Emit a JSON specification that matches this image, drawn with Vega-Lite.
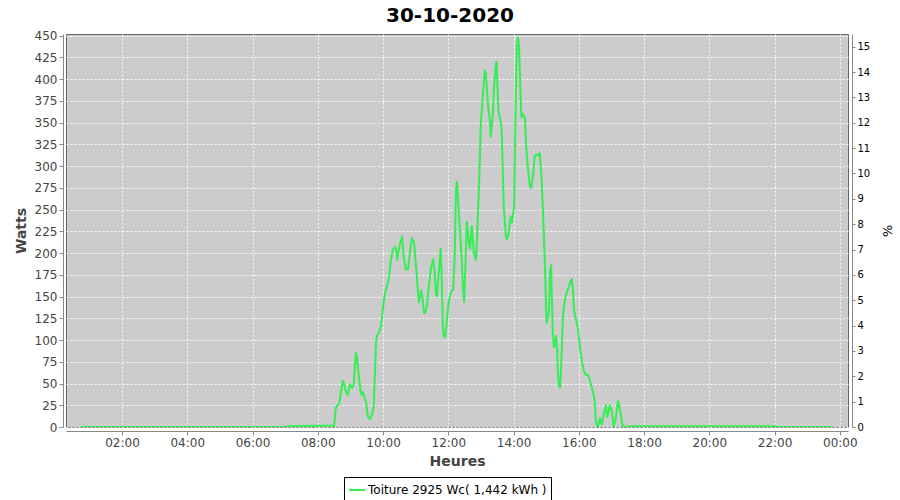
{
  "$schema": "https://vega.github.io/schema/vega-lite/v6.json",
  "width": 782,
  "height": 393,
  "autosize": {"type": "none"},
  "padding": {"left": 66, "top": 34, "right": 52, "bottom": 73},
  "background": "white",
  "title": {"text": "30-10-2020", "fontSize": 20, "fontWeight": "bold", "font": "DejaVu Sans", "color": "black", "anchor": "middle", "frame": "group", "dx": -7, "offset": 4},
  "config": {
    "view": {"fill": "#cccccc", "stroke": "#666666", "strokeWidth": 1},
    "axis": {"labelFont": "DejaVu Sans", "titleFont": "DejaVu Sans"},
    "legend": {"labelFont": "DejaVu Sans"}
  },
  "data": {"values": [
    {"t": "2020-10-30T00:45", "w": 0},
    {"t": "2020-10-30T02:00", "w": 0},
    {"t": "2020-10-30T04:00", "w": 0},
    {"t": "2020-10-30T06:00", "w": 0},
    {"t": "2020-10-30T07:00", "w": 0},
    {"t": "2020-10-30T07:05", "w": 1},
    {"t": "2020-10-30T08:00", "w": 1.5},
    {"t": "2020-10-30T08:30", "w": 1.5},
    {"t": "2020-10-30T08:33", "w": 22},
    {"t": "2020-10-30T08:36", "w": 25},
    {"t": "2020-10-30T08:39", "w": 26},
    {"t": "2020-10-30T08:46", "w": 53},
    {"t": "2020-10-30T08:49", "w": 48},
    {"t": "2020-10-30T08:52", "w": 40},
    {"t": "2020-10-30T08:55", "w": 37},
    {"t": "2020-10-30T08:59", "w": 49},
    {"t": "2020-10-30T09:03", "w": 45},
    {"t": "2020-10-30T09:06", "w": 48},
    {"t": "2020-10-30T09:10", "w": 85},
    {"t": "2020-10-30T09:12", "w": 80},
    {"t": "2020-10-30T09:14", "w": 68},
    {"t": "2020-10-30T09:17", "w": 50},
    {"t": "2020-10-30T09:19", "w": 40},
    {"t": "2020-10-30T09:21", "w": 37},
    {"t": "2020-10-30T09:23", "w": 40},
    {"t": "2020-10-30T09:25", "w": 36},
    {"t": "2020-10-30T09:29", "w": 28},
    {"t": "2020-10-30T09:32", "w": 12},
    {"t": "2020-10-30T09:36", "w": 9},
    {"t": "2020-10-30T09:40", "w": 15},
    {"t": "2020-10-30T09:43", "w": 25},
    {"t": "2020-10-30T09:45", "w": 60},
    {"t": "2020-10-30T09:47", "w": 97},
    {"t": "2020-10-30T09:49", "w": 105},
    {"t": "2020-10-30T09:52", "w": 108},
    {"t": "2020-10-30T09:56", "w": 115},
    {"t": "2020-10-30T10:00", "w": 137},
    {"t": "2020-10-30T10:03", "w": 152},
    {"t": "2020-10-30T10:07", "w": 162},
    {"t": "2020-10-30T10:11", "w": 172},
    {"t": "2020-10-30T10:14", "w": 190},
    {"t": "2020-10-30T10:18", "w": 204},
    {"t": "2020-10-30T10:22", "w": 207},
    {"t": "2020-10-30T10:24", "w": 205},
    {"t": "2020-10-30T10:26", "w": 192},
    {"t": "2020-10-30T10:28", "w": 200},
    {"t": "2020-10-30T10:31", "w": 210},
    {"t": "2020-10-30T10:35", "w": 219},
    {"t": "2020-10-30T10:38", "w": 195},
    {"t": "2020-10-30T10:42", "w": 181},
    {"t": "2020-10-30T10:46", "w": 182},
    {"t": "2020-10-30T10:49", "w": 198},
    {"t": "2020-10-30T10:53", "w": 217},
    {"t": "2020-10-30T10:57", "w": 213},
    {"t": "2020-10-30T11:00", "w": 190},
    {"t": "2020-10-30T11:04", "w": 158},
    {"t": "2020-10-30T11:06", "w": 143},
    {"t": "2020-10-30T11:08", "w": 150},
    {"t": "2020-10-30T11:10", "w": 157},
    {"t": "2020-10-30T11:13", "w": 148},
    {"t": "2020-10-30T11:15", "w": 132},
    {"t": "2020-10-30T11:17", "w": 131},
    {"t": "2020-10-30T11:21", "w": 140},
    {"t": "2020-10-30T11:24", "w": 160},
    {"t": "2020-10-30T11:28", "w": 182},
    {"t": "2020-10-30T11:32", "w": 193},
    {"t": "2020-10-30T11:35", "w": 178},
    {"t": "2020-10-30T11:37", "w": 155},
    {"t": "2020-10-30T11:39", "w": 150},
    {"t": "2020-10-30T11:43", "w": 182},
    {"t": "2020-10-30T11:46", "w": 205},
    {"t": "2020-10-30T11:48", "w": 170},
    {"t": "2020-10-30T11:50", "w": 115},
    {"t": "2020-10-30T11:52", "w": 104},
    {"t": "2020-10-30T11:54", "w": 103},
    {"t": "2020-10-30T11:57", "w": 120},
    {"t": "2020-10-30T12:01", "w": 145},
    {"t": "2020-10-30T12:05", "w": 155},
    {"t": "2020-10-30T12:09", "w": 158},
    {"t": "2020-10-30T12:12", "w": 200},
    {"t": "2020-10-30T12:14", "w": 272},
    {"t": "2020-10-30T12:16", "w": 282},
    {"t": "2020-10-30T12:18", "w": 262},
    {"t": "2020-10-30T12:21", "w": 230},
    {"t": "2020-10-30T12:25", "w": 190},
    {"t": "2020-10-30T12:27", "w": 160},
    {"t": "2020-10-30T12:29", "w": 144},
    {"t": "2020-10-30T12:32", "w": 195},
    {"t": "2020-10-30T12:34", "w": 236},
    {"t": "2020-10-30T12:36", "w": 225},
    {"t": "2020-10-30T12:38", "w": 210},
    {"t": "2020-10-30T12:40", "w": 205},
    {"t": "2020-10-30T12:43", "w": 231},
    {"t": "2020-10-30T12:47", "w": 200},
    {"t": "2020-10-30T12:51", "w": 192},
    {"t": "2020-10-30T12:53", "w": 220},
    {"t": "2020-10-30T12:56", "w": 270},
    {"t": "2020-10-30T13:00", "w": 350},
    {"t": "2020-10-30T13:04", "w": 385},
    {"t": "2020-10-30T13:07", "w": 410},
    {"t": "2020-10-30T13:09", "w": 407},
    {"t": "2020-10-30T13:13", "w": 370},
    {"t": "2020-10-30T13:17", "w": 350},
    {"t": "2020-10-30T13:18", "w": 334},
    {"t": "2020-10-30T13:22", "w": 360},
    {"t": "2020-10-30T13:24", "w": 390},
    {"t": "2020-10-30T13:28", "w": 420},
    {"t": "2020-10-30T13:29", "w": 418},
    {"t": "2020-10-30T13:32", "w": 364},
    {"t": "2020-10-30T13:35", "w": 355},
    {"t": "2020-10-30T13:38", "w": 345},
    {"t": "2020-10-30T13:40", "w": 300},
    {"t": "2020-10-30T13:42", "w": 253},
    {"t": "2020-10-30T13:46", "w": 218},
    {"t": "2020-10-30T13:48", "w": 216},
    {"t": "2020-10-30T13:51", "w": 222},
    {"t": "2020-10-30T13:53", "w": 236},
    {"t": "2020-10-30T13:55", "w": 242},
    {"t": "2020-10-30T13:57", "w": 235},
    {"t": "2020-10-30T14:01", "w": 253},
    {"t": "2020-10-30T14:04", "w": 380},
    {"t": "2020-10-30T14:06", "w": 440},
    {"t": "2020-10-30T14:08", "w": 448},
    {"t": "2020-10-30T14:10", "w": 438},
    {"t": "2020-10-30T14:12", "w": 400},
    {"t": "2020-10-30T14:14", "w": 362},
    {"t": "2020-10-30T14:15", "w": 356},
    {"t": "2020-10-30T14:17", "w": 360},
    {"t": "2020-10-30T14:21", "w": 355},
    {"t": "2020-10-30T14:23", "w": 325},
    {"t": "2020-10-30T14:26", "w": 300},
    {"t": "2020-10-30T14:30", "w": 278},
    {"t": "2020-10-30T14:32", "w": 275},
    {"t": "2020-10-30T14:36", "w": 290},
    {"t": "2020-10-30T14:39", "w": 312},
    {"t": "2020-10-30T14:43", "w": 313},
    {"t": "2020-10-30T14:47", "w": 312},
    {"t": "2020-10-30T14:48", "w": 315},
    {"t": "2020-10-30T14:50", "w": 300},
    {"t": "2020-10-30T14:52", "w": 280},
    {"t": "2020-10-30T14:54", "w": 250},
    {"t": "2020-10-30T14:58", "w": 180},
    {"t": "2020-10-30T15:00", "w": 130},
    {"t": "2020-10-30T15:01", "w": 120},
    {"t": "2020-10-30T15:05", "w": 132},
    {"t": "2020-10-30T15:07", "w": 178},
    {"t": "2020-10-30T15:09", "w": 186},
    {"t": "2020-10-30T15:10", "w": 160},
    {"t": "2020-10-30T15:12", "w": 110},
    {"t": "2020-10-30T15:14", "w": 92},
    {"t": "2020-10-30T15:16", "w": 95},
    {"t": "2020-10-30T15:18", "w": 105},
    {"t": "2020-10-30T15:20", "w": 90},
    {"t": "2020-10-30T15:21", "w": 70},
    {"t": "2020-10-30T15:23", "w": 50},
    {"t": "2020-10-30T15:25", "w": 45},
    {"t": "2020-10-30T15:27", "w": 60},
    {"t": "2020-10-30T15:29", "w": 95},
    {"t": "2020-10-30T15:31", "w": 130},
    {"t": "2020-10-30T15:34", "w": 145},
    {"t": "2020-10-30T15:38", "w": 155},
    {"t": "2020-10-30T15:42", "w": 162},
    {"t": "2020-10-30T15:45", "w": 168},
    {"t": "2020-10-30T15:47", "w": 170},
    {"t": "2020-10-30T15:49", "w": 160},
    {"t": "2020-10-30T15:51", "w": 135},
    {"t": "2020-10-30T15:55", "w": 123},
    {"t": "2020-10-30T15:58", "w": 115},
    {"t": "2020-10-30T16:02", "w": 92},
    {"t": "2020-10-30T16:06", "w": 75},
    {"t": "2020-10-30T16:09", "w": 65},
    {"t": "2020-10-30T16:13", "w": 60},
    {"t": "2020-10-30T16:17", "w": 60},
    {"t": "2020-10-30T16:20", "w": 55},
    {"t": "2020-10-30T16:24", "w": 45},
    {"t": "2020-10-30T16:28", "w": 35},
    {"t": "2020-10-30T16:30", "w": 25},
    {"t": "2020-10-30T16:31", "w": 10},
    {"t": "2020-10-30T16:33", "w": 2},
    {"t": "2020-10-30T16:35", "w": 0},
    {"t": "2020-10-30T16:39", "w": 10},
    {"t": "2020-10-30T16:41", "w": 5},
    {"t": "2020-10-30T16:42", "w": 3},
    {"t": "2020-10-30T16:46", "w": 15},
    {"t": "2020-10-30T16:50", "w": 25},
    {"t": "2020-10-30T16:52", "w": 12},
    {"t": "2020-10-30T16:54", "w": 15},
    {"t": "2020-10-30T16:57", "w": 25},
    {"t": "2020-10-30T17:01", "w": 18},
    {"t": "2020-10-30T17:04", "w": 0},
    {"t": "2020-10-30T17:08", "w": 10},
    {"t": "2020-10-30T17:12", "w": 30},
    {"t": "2020-10-30T17:15", "w": 22},
    {"t": "2020-10-30T17:19", "w": 8},
    {"t": "2020-10-30T17:21", "w": 0},
    {"t": "2020-10-30T17:40", "w": 1},
    {"t": "2020-10-30T20:00", "w": 1},
    {"t": "2020-10-30T22:00", "w": 1},
    {"t": "2020-10-30T22:05", "w": 0},
    {"t": "2020-10-30T23:00", "w": 0},
    {"t": "2020-10-30T23:47", "w": 0}
  ]},
  "layer": [
    {
      "mark": {"type": "line", "strokeWidth": 2, "strokeJoin": "round", "clip": true},
      "encoding": {
        "x": {
          "field": "t", "type": "temporal",
          "scale": {"domain": [{"year": 2020, "month": 10, "date": 30, "hours": 0, "minutes": 17}, {"year": 2020, "month": 10, "date": 31, "hours": 0, "minutes": 15}]},
          "axis": {
            "title": "Heures", "titleFontSize": 14, "titleFontWeight": "bold", "titleColor": "#444444", "titlePadding": 6,
            "format": "%H:%M", "labelFontSize": 12, "labelColor": "#444444", "labelPadding": 2, "labelFlush": false,
            "values": [
              {"year": 2020, "month": 10, "date": 30, "hours": 2},
              {"year": 2020, "month": 10, "date": 30, "hours": 4},
              {"year": 2020, "month": 10, "date": 30, "hours": 6},
              {"year": 2020, "month": 10, "date": 30, "hours": 8},
              {"year": 2020, "month": 10, "date": 30, "hours": 10},
              {"year": 2020, "month": 10, "date": 30, "hours": 12},
              {"year": 2020, "month": 10, "date": 30, "hours": 14},
              {"year": 2020, "month": 10, "date": 30, "hours": 16},
              {"year": 2020, "month": 10, "date": 30, "hours": 18},
              {"year": 2020, "month": 10, "date": 30, "hours": 20},
              {"year": 2020, "month": 10, "date": 30, "hours": 22},
              {"year": 2020, "month": 10, "date": 31, "hours": 0}
            ],
            "offset": 4, "domainColor": "#888888", "tickColor": "#888888", "tickSize": 4,
            "grid": true, "gridColor": "white", "gridDash": [2, 2], "gridOpacity": 0.9
          }
        },
        "y": {
          "field": "w", "type": "quantitative",
          "scale": {"domain": [0, 452], "nice": false, "zero": true},
          "axis": {
            "title": "Watts", "titleFontSize": 14, "titleFontWeight": "bold", "titleColor": "#444444", "titlePadding": 6,
            "values": [0, 25, 50, 75, 100, 125, 150, 175, 200, 225, 250, 275, 300, 325, 350, 375, 400, 425, 450],
            "labelFontSize": 12, "labelColor": "#444444", "labelPadding": 2,
            "offset": 3, "domainColor": "#888888", "tickColor": "#888888", "tickSize": 4,
            "grid": true, "gridColor": "white", "gridDash": [2, 2], "gridOpacity": 0.9
          }
        },
        "color": {
          "datum": "Toiture 2925 Wc( 1,442 kWh )",
          "type": "nominal",
          "scale": {"range": ["#33ee55"]},
          "legend": {
            "title": null, "orient": "none", "legendX": 278, "legendY": 443,
            "strokeColor": "black", "padding": 4, "fillColor": "white",
            "symbolType": "stroke", "symbolSize": 256, "symbolStrokeWidth": 2,
            "labelFontSize": 12, "labelColor": "black", "labelOffset": 2, "labelLimit": 400
          }
        }
      }
    },
    {
      "mark": {"type": "rule", "strokeOpacity": 0},
      "encoding": {
        "y": {
          "datum": 0, "type": "quantitative",
          "scale": {"domain": [0, 15.5], "nice": false},
          "axis": {
            "orient": "right", "title": "%", "titleFontSize": 13, "titleFontWeight": "normal", "titleColor": "black", "titlePadding": 10,
            "values": [0, 1, 2, 3, 4, 5, 6, 7, 8, 9, 10, 11, 12, 13, 14, 15],
            "labelFontSize": 10, "labelColor": "black", "labelPadding": 2,
            "offset": 4, "domainColor": "#888888", "tickColor": "#888888", "tickSize": 3, "grid": false
          }
        }
      }
    }
  ],
  "resolve": {"scale": {"y": "independent"}}
}
